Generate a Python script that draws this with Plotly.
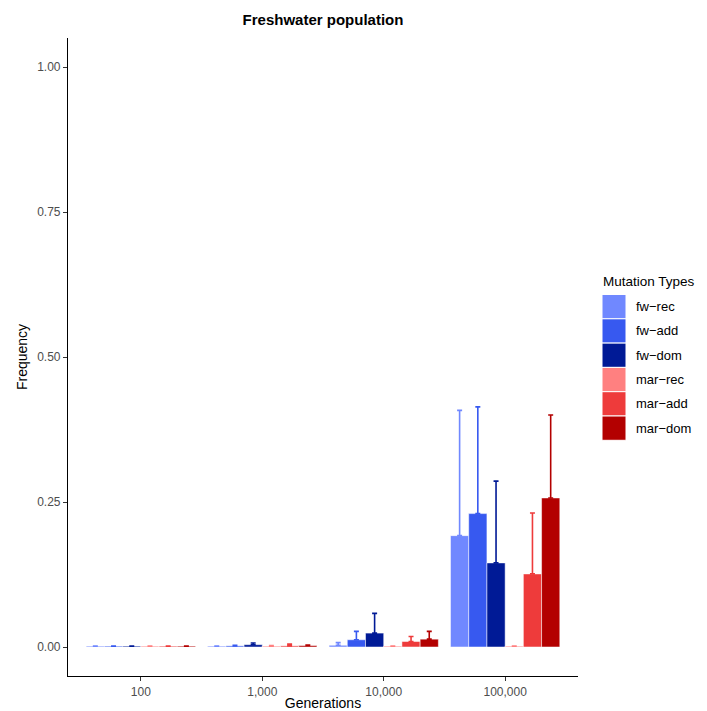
import plotly.graph_objects as go

# ---------------------------------------------------------
# Data
# ---------------------------------------------------------
generations = ["100", "1,000", "10,000", "100,000"]

series_names = ["fw\u2212rec", "fw\u2212add", "fw\u2212dom", "mar\u2212rec", "mar\u2212add", "mar\u2212dom"]
series_colors = ["#7088FF", "#3759F0", "#001A96", "#FF8080", "#EE3B3B", "#B30000"]

fw_rec = [0.0015, 0.0015, 0.003, 0.192]
fw_add = [0.0015, 0.002, 0.0125, 0.230]
fw_dom = [0.0015, 0.004, 0.024, 0.145]
mar_rec = [0.0015, 0.0015, 0.0015, 0.0015]
mar_add = [0.0015, 0.002, 0.0095, 0.126]
mar_dom = [0.0015, 0.0025, 0.0135, 0.257]

# upper error bar length (None = no visible bar)
fw_rec_err = [None, None, 0.0045, 0.216]
fw_add_err = [None, 0.001, 0.0145, 0.184]
fw_dom_err = [None, 0.003, 0.034, 0.141]
mar_rec_err = [None, 0.001, None, None]
mar_add_err = [None, 0.003, 0.0085, 0.105]
mar_dom_err = [None, 0.001, 0.0135, 0.143]

values = [fw_rec, fw_add, fw_dom, mar_rec, mar_add, mar_dom]
errors = [fw_rec_err, fw_add_err, fw_dom_err, mar_rec_err, mar_add_err, mar_dom_err]

y_ticks = [0, 0.25, 0.5, 0.75, 1.0]
y_tick_labels = ["0.00", "0.25", "0.50", "0.75", "1.00"]

# ---------------------------------------------------------
# Figure
# ---------------------------------------------------------
fig = go.Figure()

for name, color, vals, errs in zip(series_names, series_colors, values, errors):
    fig.add_trace(
        go.Bar(
            x=generations,
            y=vals,
            name=name,
            showlegend=False,
            marker=dict(color=color, line=dict(color="white", width=0.5)),
            error_y=dict(
                type="data",
                array=[float("nan") if e is None else e for e in errs],
                arrayminus=[0] * len(errs),
                symmetric=False,
                color=color,
                thickness=1.6,
                width=2.5,
            ),
        )
    )

# ---------------------------------------------------------
# ggplot-style legend (squares + labels) in paper coords
# ---------------------------------------------------------
plot_l, plot_r, plot_t, plot_b = 68, 578, 38, 676
pw, ph = plot_r - plot_l, plot_b - plot_t


def px_x(x):
    return (x - plot_l) / pw


def px_y(y):
    return (plot_b - y) / ph


key_top, key_h = 294.5, 24.3
for i, (name, color) in enumerate(zip(series_names, series_colors)):
    y0 = key_top + i * key_h
    fig.add_shape(
        type="rect", xref="paper", yref="paper",
        x0=px_x(602), x1=px_x(626), y0=px_y(y0 + key_h), y1=px_y(y0),
        fillcolor=color, line=dict(color="white", width=1), layer="above",
    )
    fig.add_annotation(
        xref="paper", yref="paper", x=px_x(634), y=px_y(y0 + key_h / 2),
        text=name, showarrow=False, xanchor="left", yanchor="middle",
        font=dict(size=13, color="black"),
    )

fig.add_annotation(
    xref="paper", yref="paper", x=px_x(601), y=px_y(281),
    text="Mutation Types", showarrow=False, xanchor="left", yanchor="middle",
    font=dict(size=13.5, color="black"),
)

fig.update_layout(
    barmode="group",
    bargap=0.1,
    bargroupgap=0,
    width=707,
    height=711,
    margin=dict(l=plot_l, r=707 - plot_r, t=plot_t, b=711 - plot_b),
    plot_bgcolor="white",
    paper_bgcolor="white",
    showlegend=False,
    font=dict(family="Liberation Sans, Arial, sans-serif", size=13, color="black"),
    title=dict(
        text="<b>Freshwater population</b>",
        x=(plot_l + plot_r) / 2 / 707,
        xanchor="center",
        y=1 - 20 / 711,
        yanchor="middle",
        yref="container",
        font=dict(size=15, color="black"),
    ),
    xaxis=dict(
        title=dict(text="Generations", font=dict(size=14), standoff=2),
        automargin=False,
        range=[-0.6, 3.6],
        showline=True,
        linecolor="black",
        linewidth=1.2,
        ticks="outside",
        ticklen=4,
        tickcolor="#333333",
        tickfont=dict(size=12, color="#4D4D4D"),
        showgrid=False,
        zeroline=False,
    ),
    yaxis=dict(
        title=dict(text="Frequency", font=dict(size=14), standoff=6),
        automargin=False,
        range=[-0.05, 1.05],
        tickvals=y_ticks,
        ticktext=y_tick_labels,
        showline=True,
        linecolor="black",
        linewidth=1.2,
        ticks="outside",
        ticklen=4,
        tickcolor="#333333",
        tickfont=dict(size=12, color="#4D4D4D"),
        showgrid=False,
        zeroline=False,
    ),
)

fig.write_html(
    "out.html",
    config={"displayModeBar": False},
    post_script="document.body.style.margin='0';",
)
